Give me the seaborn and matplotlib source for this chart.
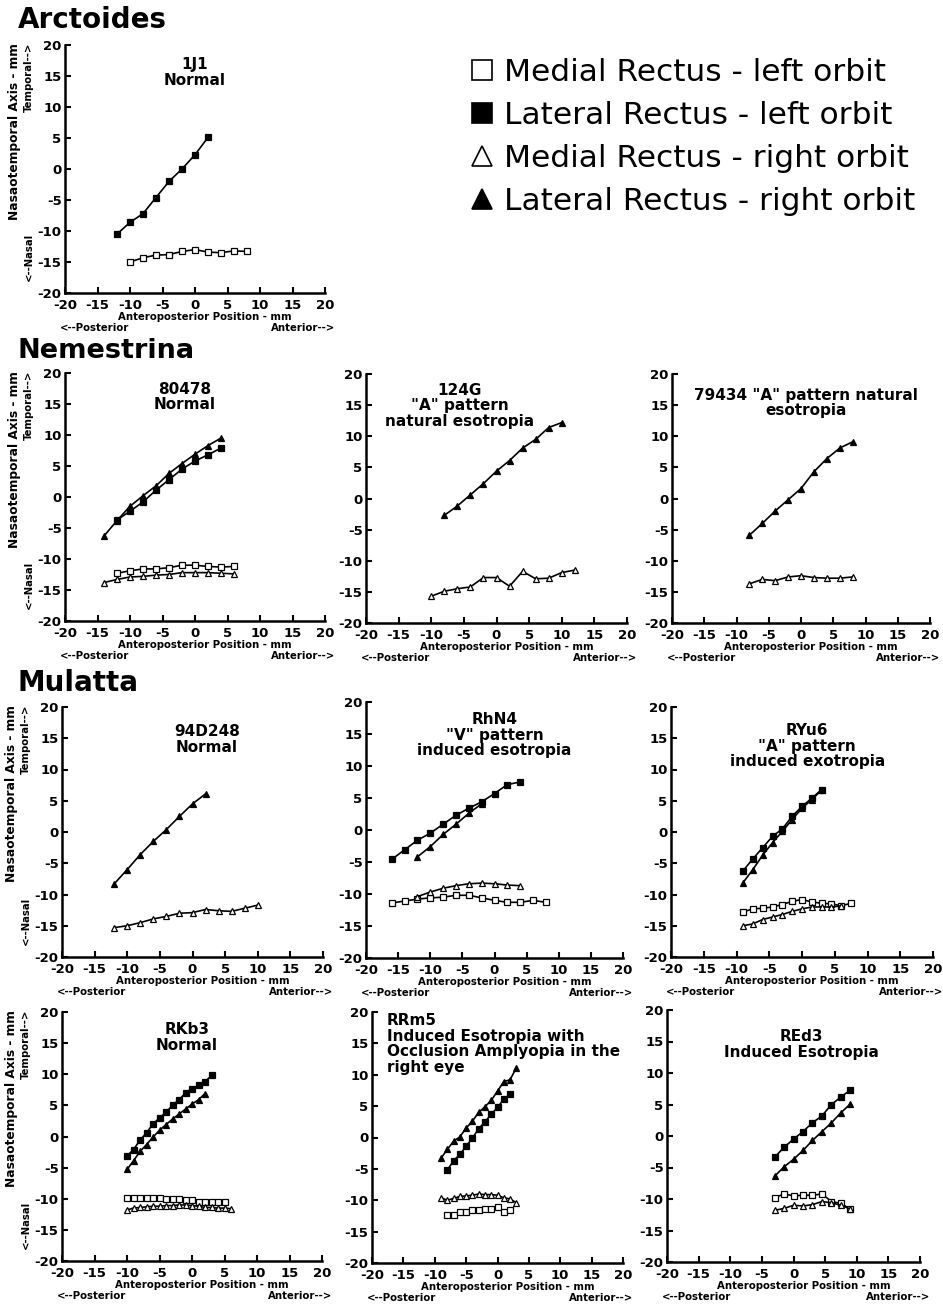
import matplotlib
matplotlib.use("Agg")
import matplotlib.pyplot as plt
from matplotlib.lines import Line2D
import seaborn as sns
import pandas as pd

W, H = 943, 1304

MR_L = "Medial Rectus - left orbit"
LR_L = "Lateral Rectus - left orbit"
MR_R = "Medial Rectus - right orbit"
LR_R = "Lateral Rectus - right orbit"
SERIES = [MR_L, LR_L, MR_R, LR_R]
MARKER = {MR_L: ("s", "white"), LR_L: ("s", "black"),
          MR_R: ("^", "white"), LR_R: ("^", "black")}

x_ticks = [-20, -15, -10, -5, 0, 5, 10, 15, 20]
y_ticks = [-20, -15, -10, -5, 0, 5, 10, 15, 20]

# ---- Arctoides 1J1
j1_lrl_x = [-12, -10, -8, -6, -4, -2, 0, 2]
j1_lrl_y = [-10.5, -8.6, -7.2, -4.6, -2.0, 0.0, 2.3, 5.1]
j1_mrl_x = [-10, -8, -6, -4, -2, 0, 2, 4, 6, 8]
j1_mrl_y = [-15.0, -14.3, -13.9, -13.8, -13.3, -13.0, -13.4, -13.5, -13.2, -13.3]

# ---- Nemestrina 80478
n1_lrr_x = [-14, -12, -10, -8, -6, -4, -2, 0, 2, 4]
n1_lrr_y = [-6.3, -3.8, -1.5, 0.2, 1.8, 3.8, 5.4, 6.9, 8.3, 9.5]
n1_lrl_x = [-12, -10, -8, -6, -4, -2, 0, 2, 4]
n1_lrl_y = [-3.7, -2.3, -0.8, 1.1, 2.8, 4.5, 5.8, 6.8, 7.9]
n1_mrl_x = [-12, -10, -8, -6, -4, -2, 0, 2, 4, 6]
n1_mrl_y = [-12.3, -11.9, -11.6, -11.6, -11.4, -11.0, -11.0, -11.2, -11.3, -11.2]
n1_mrr_x = [-14, -12, -10, -8, -6, -4, -2, 0, 2, 4, 6]
n1_mrr_y = [-13.8, -13.3, -12.9, -12.8, -12.6, -12.5, -12.2, -12.2, -12.2, -12.3, -12.4]

# ---- Nemestrina 124G
n2_lrr_x = [-8, -6, -4, -2, 0, 2, 4, 6, 8, 10]
n2_lrr_y = [-2.7, -1.2, 0.6, 2.4, 4.4, 6.1, 8.1, 9.5, 11.4, 12.2]
n2_mrr_x = [-10, -8, -6, -4, -2, 0, 2, 4, 6, 8, 10, 12]
n2_mrr_y = [-15.7, -14.9, -14.5, -14.2, -12.7, -12.7, -14.1, -11.7, -12.9, -12.8, -11.9, -11.5]

# ---- Nemestrina 79434
n3_lrr_x = [-8, -6, -4, -2, 0, 2, 4, 6, 8]
n3_lrr_y = [-5.9, -4.0, -2.0, -0.2, 1.6, 4.3, 6.4, 8.1, 9.1]
n3_mrr_x = [-8, -6, -4, -2, 0, 2, 4, 6, 8]
n3_mrr_y = [-13.7, -13.0, -13.2, -12.6, -12.4, -12.7, -12.8, -12.8, -12.6]

# ---- Mulatta 94D248
m1_lrr_x = [-12, -10, -8, -6, -4, -2, 0, 2]
m1_lrr_y = [-8.3, -6.0, -3.6, -1.5, 0.4, 2.5, 4.5, 6.1]
m1_mrr_x = [-12, -10, -8, -6, -4, -2, 0, 2, 4, 6, 8, 10]
m1_mrr_y = [-15.3, -15.0, -14.5, -13.9, -13.5, -13.0, -12.9, -12.4, -12.6, -12.7, -12.2, -11.7]

# ---- Mulatta RhN4
m2_lrl_x = [-16, -14, -12, -10, -8, -6, -4, -2, 0, 2, 4]
m2_lrl_y = [-4.6, -3.1, -1.6, -0.5, 0.9, 2.3, 3.4, 4.4, 5.7, 7.1, 7.5]
m2_lrr_x = [-12, -10, -8, -6, -4, -2]
m2_lrr_y = [-4.2, -2.6, -0.7, 0.9, 2.6, 4.1]
m2_mrr_x = [-12, -10, -8, -6, -4, -2, 0, 2, 4]
m2_mrr_y = [-10.4, -9.7, -9.1, -8.7, -8.4, -8.3, -8.4, -8.6, -8.7]
m2_mrl_x = [-16, -14, -12, -10, -8, -6, -4, -2, 0, 2, 4, 6, 8]
m2_mrl_y = [-11.4, -11.1, -10.8, -10.6, -10.5, -10.2, -10.2, -10.6, -11.0, -11.3, -11.3, -11.0, -11.3]

# ---- Mulatta RYu6
m3_lrl_x = [-9, -7.5, -6, -4.5, -3, -1.5, 0, 1.5, 3]
m3_lrl_y = [-6.2, -4.3, -2.5, -0.7, 0.5, 2.5, 4.1, 5.4, 6.8]
m3_lrr_x = [-9, -7.5, -6, -4.5, -3, -1.5, 0, 1.5, 3]
m3_lrr_y = [-8.1, -6.0, -3.7, -1.7, 0.1, 2.0, 3.8, 5.2, 6.7]
m3_mrl_x = [-9, -7.5, -6, -4.5, -3, -1.5, 0, 1.5, 3, 4.5, 6, 7.5]
m3_mrl_y = [-12.8, -12.3, -12.2, -12.0, -11.6, -11.1, -10.8, -11.2, -11.4, -11.5, -11.8, -11.4]
m3_mrr_x = [-9, -7.5, -6, -4.5, -3, -1.5, 0, 1.5, 3, 4.5, 6]
m3_mrr_y = [-15.0, -14.7, -14.0, -13.6, -13.2, -12.7, -12.3, -12.0, -12.0, -12.0, -11.8]

# ---- Mulatta RKb3
m4_lrl_x = [-10, -9, -8, -7, -6, -5, -4, -3, -2, -1, 0, 1, 2, 3]
m4_lrl_y = [-3.1, -2.1, -0.6, 0.6, 2.0, 3.0, 3.9, 5.0, 5.9, 7.0, 7.7, 8.2, 8.8, 9.8]
m4_lrr_x = [-10, -9, -8, -7, -6, -5, -4, -3, -2, -1, 0, 1, 2]
m4_lrr_y = [-5.3, -3.9, -2.4, -1.3, -0.1, 1.0, 1.9, 2.8, 3.6, 4.4, 5.2, 5.9, 6.9]
m4_mrl_x = [-10, -9, -8, -7, -6, -5, -4, -3, -2, -1, 0, 1, 2, 3, 4, 5]
m4_mrl_y = [-9.8, -9.8, -9.8, -9.9, -9.9, -9.9, -10.0, -10.0, -10.0, -10.2, -10.2,
            -10.5, -10.6, -10.6, -10.6, -10.6]
m4_mrr_x = [-10, -9, -8, -7, -6, -5, -4, -3, -2, -1, 0, 1, 2, 3, 4, 5, 6]
m4_mrr_y = [-11.8, -11.5, -11.4, -11.3, -11.2, -11.2, -11.1, -11.1, -11.0, -11.0,
            -11.1, -11.2, -11.4, -11.4, -11.5, -11.5, -11.6]

# ---- Mulatta RRm5
m5_lrr_x = [-9, -8, -7, -6, -5, -4, -3, -2, -1, 0, 1, 2, 3]
m5_lrr_y = [-3.3, -1.9, -0.6, 0.1, 1.5, 2.6, 4.0, 4.9, 5.9, 7.4, 8.9, 9.2, 11.1]
m5_lrl_x = [-8, -7, -6, -5, -4, -3, -2, -1, 0, 1, 2]
m5_lrl_y = [-5.2, -3.7, -2.7, -1.4, -0.1, 1.4, 2.5, 3.7, 4.8, 6.1, 6.9]
m5_mrr_x = [-9, -8, -7, -6, -5, -4, -3, -2, -1, 0, 1, 2, 3]
m5_mrr_y = [-9.6, -10.0, -9.7, -9.4, -9.3, -9.2, -9.0, -9.1, -9.1, -9.2, -9.6, -9.8, -10.4]
m5_mrl_x = [-8, -7, -6, -5, -4, -3, -2, -1, 0, 1, 2]
m5_mrl_y = [-12.4, -12.3, -11.9, -11.8, -11.6, -11.5, -11.4, -11.4, -11.1, -11.8, -11.6]

# ---- Mulatta REd3
m6_lrl_x = [-3, -1.5, 0, 1.5, 3, 4.5, 6, 7.5, 9]
m6_lrl_y = [-3.4, -1.8, -0.5, 0.7, 2.1, 3.2, 5.0, 6.2, 7.3]
m6_lrr_x = [-3, -1.5, 0, 1.5, 3, 4.5, 6, 7.5, 9]
m6_lrr_y = [-6.4, -4.9, -3.7, -2.3, -0.7, 0.7, 2.1, 3.7, 5.1]
m6_mrl_x = [-3, -1.5, 0, 1.5, 3, 4.5, 6, 7.5, 9]
m6_mrl_y = [-9.8, -9.2, -9.5, -9.4, -9.4, -9.2, -10.4, -10.7, -11.6]
m6_mrr_x = [-3, -1.5, 0, 1.5, 3, 4.5, 6, 7.5, 9]
m6_mrr_y = [-11.8, -11.5, -11.0, -11.1, -10.9, -10.4, -10.6, -11.0, -11.6]

# panel layout: box = (left, right, top, bottom) in pixels
panels = [
    dict(box=(65, 325, 45, 293), title="1J1\nNormal", tx=0.5, ty=0.95, ha="center",
         ylab=True, ms=5,
         series=[(MR_L, j1_mrl_x, j1_mrl_y), (LR_L, j1_lrl_x, j1_lrl_y)]),
    dict(box=(65, 325, 373, 621), title="80478\nNormal", tx=0.46, ty=0.965, ha="center",
         ylab=True, ms=5,
         series=[(MR_L, n1_mrl_x, n1_mrl_y), (MR_R, n1_mrr_x, n1_mrr_y),
                 (LR_L, n1_lrl_x, n1_lrl_y), (LR_R, n1_lrr_x, n1_lrr_y)]),
    dict(box=(366, 627, 374, 623), title="124G\n\"A\" pattern\nnatural esotropia",
         tx=0.36, ty=0.965, ha="center", ylab=False, ms=5,
         series=[(MR_R, n2_mrr_x, n2_mrr_y), (LR_R, n2_lrr_x, n2_lrr_y)]),
    dict(box=(672, 930, 374, 623), title="79434 \"A\" pattern natural\nesotropia",
         tx=0.52, ty=0.945, ha="center", ylab=False, ms=5,
         series=[(MR_R, n3_mrr_x, n3_mrr_y), (LR_R, n3_lrr_x, n3_lrr_y)]),
    dict(box=(62, 323, 707, 957), title="94D248\nNormal", tx=0.555, ty=0.93, ha="center",
         ylab=True, ms=5,
         series=[(MR_R, m1_mrr_x, m1_mrr_y), (LR_R, m1_lrr_x, m1_lrr_y)]),
    dict(box=(366, 623, 702, 958), title="RhN4\n\"V\" pattern\ninduced esotropia",
         tx=0.50, ty=0.96, ha="center", ylab=False, ms=5,
         series=[(MR_L, m2_mrl_x, m2_mrl_y), (MR_R, m2_mrr_x, m2_mrr_y),
                 (LR_R, m2_lrr_x, m2_lrr_y), (LR_L, m2_lrl_x, m2_lrl_y)]),
    dict(box=(671, 933, 707, 957), title="RYu6\n\"A\" pattern\ninduced exotropia",
         tx=0.52, ty=0.935, ha="center", ylab=False, ms=5,
         series=[(MR_L, m3_mrl_x, m3_mrl_y), (MR_R, m3_mrr_x, m3_mrr_y),
                 (LR_R, m3_lrr_x, m3_lrr_y), (LR_L, m3_lrl_x, m3_lrl_y)]),
    dict(box=(62, 322, 1012, 1261), title="RKb3\nNormal", tx=0.48, ty=0.96, ha="center",
         ylab=True, ms=4.2,
         series=[(MR_L, m4_mrl_x, m4_mrl_y), (MR_R, m4_mrr_x, m4_mrr_y),
                 (LR_R, m4_lrr_x, m4_lrr_y), (LR_L, m4_lrl_x, m4_lrl_y)]),
    dict(box=(372, 623, 1012, 1263),
         title="RRm5\nInduced Esotropia with\nOcclusion Amplyopia in the\nright eye",
         tx=0.06, ty=0.995, ha="left", ylab=False, ms=4.2,
         series=[(MR_L, m5_mrl_x, m5_mrl_y), (MR_R, m5_mrr_x, m5_mrr_y),
                 (LR_L, m5_lrl_x, m5_lrl_y), (LR_R, m5_lrr_x, m5_lrr_y)]),
    dict(box=(667, 920, 1010, 1262), title="REd3\nInduced Esotropia", tx=0.53, ty=0.925,
         ha="center", ylab=False, ms=4.5,
         series=[(MR_L, m6_mrl_x, m6_mrl_y), (MR_R, m6_mrr_x, m6_mrr_y),
                 (LR_R, m6_lrr_x, m6_lrr_y), (LR_L, m6_lrl_x, m6_lrl_y)]),
]

sns.set_style("ticks")
plt.rcParams["font.family"] = ["DejaVu Sans"]
plt.rcParams["font.weight"] = "bold"
plt.rcParams["axes.unicode_minus"] = False
plt.rcParams["text.color"] = "black"
plt.rcParams["axes.edgecolor"] = "black"
plt.rcParams["xtick.color"] = "black"
plt.rcParams["ytick.color"] = "black"

fig = plt.figure(figsize=(W / 100, H / 100), dpi=100)


def fx(px):
    return px / W


def fy(py):
    return 1 - py / H


for p in panels:
    l, r, t, b = p["box"]
    ax = fig.add_axes([fx(l), fy(b), (r - l) / W, (b - t) / H])
    for name, xs, ys in p["series"]:
        m, fc = MARKER[name]
        df = pd.DataFrame({"x": xs, "y": ys})
        sns.lineplot(data=df, x="x", y="y", ax=ax, color="black", marker=m,
                     markerfacecolor=fc, markeredgecolor="black", markeredgewidth=0.9,
                     markersize=p["ms"], linewidth=1.2, legend=False, sort=False,
                     estimator=None)
    ax.set_xlim(-20, 20)
    ax.set_ylim(-20, 20)
    ax.set_xticks(x_ticks)
    ax.set_yticks(y_ticks)
    ax.set_xlabel("")
    ax.set_ylabel("")
    for s in ["top", "right"]:
        ax.spines[s].set_visible(False)
    for s in ["left", "bottom"]:
        ax.spines[s].set_linewidth(1.8)
    ax.tick_params(direction="in", length=4, width=1.5, labelsize=9.5)
    ax.tick_params(axis="x", pad=4.5)
    ax.tick_params(axis="y", pad=2.5)
    for lab in ax.get_yticklabels():
        lab.set_verticalalignment("center_baseline")
    ax.text(p["tx"], p["ty"], p["title"], transform=ax.transAxes, ha=p["ha"], va="top",
            fontsize=11, fontweight="bold", linespacing=1.05)

    # x axis captions
    fig.text(fx((l + r) / 2 + 10), fy(b + 24), "Anteroposterior Position - mm",
             ha="center", va="center", fontsize=7.3)
    fig.text(fx(l - 5), fy(b + 35), "<--Posterior", ha="left", va="center", fontsize=7.3)
    fig.text(fx(r + 10), fy(b + 35), "Anterior-->", ha="right", va="center", fontsize=7.3)

    if p["ylab"]:
        fig.text(fx(l - 50), fy(t - 2), "Nasaotemporal Axis - mm", rotation=90,
                 ha="center", va="top", fontsize=8.8)
        fig.text(fx(l - 36), fy(t - 2), "Temporal-->", rotation=90,
                 ha="center", va="top", fontsize=7.3)
        fig.text(fx(l - 36), fy(b - 12), "<--Nasal", rotation=90,
                 ha="center", va="bottom", fontsize=7.3)

# group headings
fig.text(fx(18), fy(28), "Arctoides", fontsize=20, fontweight="bold", va="baseline")
fig.text(fx(17), fy(358), "Nemestrina", fontsize=19.5, fontweight="bold", va="baseline")
fig.text(fx(17), fy(691), "Mulatta", fontsize=20, fontweight="bold", va="baseline")

handles = [Line2D([], [], linestyle="none", marker=MARKER[s][0], markersize=15,
                  markerfacecolor=MARKER[s][1], markeredgecolor="black",
                  markeredgewidth=1.2) for s in SERIES]
fig.legend(handles, SERIES, loc="upper left", bbox_to_anchor=(fx(468), fy(58)),
           frameon=False, prop={"size": 22.5, "weight": "normal"}, handlelength=0.9,
           handletextpad=0.25, labelspacing=0.45, borderpad=0, borderaxespad=0)

fig.savefig("out.png", dpi=100)
